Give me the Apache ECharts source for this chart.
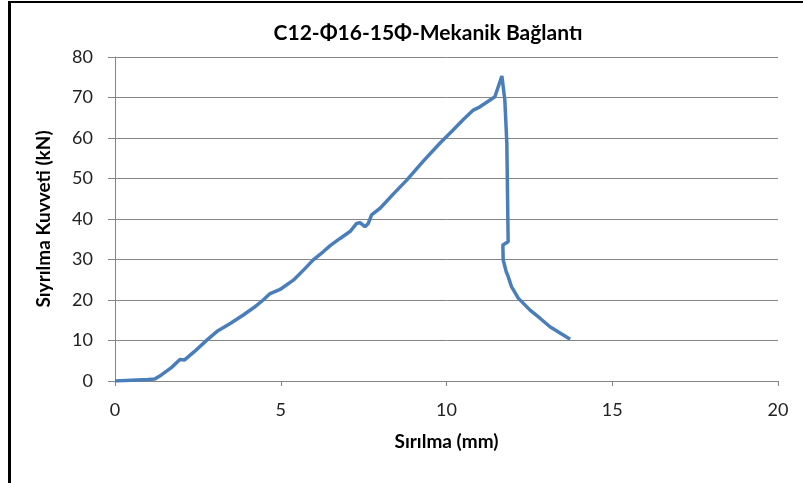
<!DOCTYPE html>
<html>
<head>
<meta charset="utf-8">
<script src="https://cdn.jsdelivr.net/npm/echarts@6/dist/echarts.min.js"></script>
<style>
html,body{margin:0;padding:0;background:#fff;}
#frame{position:absolute;left:0;top:0;width:803px;height:483px;}
#border{position:absolute;left:8px;top:1px;width:795px;height:482px;border-left:3px solid #000;border-top:2px solid #000;box-sizing:border-box;pointer-events:none;}
#chart{position:absolute;left:0;top:0;width:803px;height:483px;}
</style>
</head>
<body>
<div id="frame"><div id="chart"></div><div id="border"></div></div>
<script>
const chartTitle = 'C12-\u03A616-15\u03A6-Mekanik Bağlantı';
const xAxisName = 'Sırılma (mm)';
const yAxisName = 'Sıyrılma Kuvveti (kN)';
const slipMm = [0,0.5,1.0,1.2,1.4,1.7,1.96,2.1,2.4,2.77,3.07,3.5,3.87,4.2,4.47,4.68,4.98,5.38,5.7,5.98,6.28,6.5,6.79,7.09,7.29,7.39,7.54,7.64,7.74,7.99,8.4,8.8,9.3,9.8,10.2,10.5,10.81,11.01,11.46,11.67,11.76,11.82,11.86,11.70,11.71,11.8,11.86,11.96,12.17,12.52,12.82,13.12,13.4,13.73];
const forceKn = [0,0.2,0.4,0.5,1.5,3.3,5.3,5.2,7.3,10.1,12.2,14.3,16.3,18.2,20,21.6,22.6,24.9,27.5,29.9,31.9,33.5,35.2,36.9,38.9,39.1,38.1,38.9,41,42.6,46.2,49.6,54.3,58.7,62,64.5,66.9,67.7,70.2,75.3,69.3,58.7,34.4,33.6,29.9,27,25.8,23.3,20.4,17.5,15.5,13.4,12,10.3];

const points = slipMm.map((x, i) => [x, forceKn[i]]);
const font = "Lato, 'Noto Sans', sans-serif";
const chart = echarts.init(document.getElementById('chart'), null, {renderer: 'canvas'});
chart.setOption({
  animation: false,
  backgroundColor: '#fff',
  title: {
    text: chartTitle, left: 423, top: 18, textAlign: 'center',
    textStyle: {fontFamily: font, fontSize: 21, fontWeight: 'bold', color: '#000'}
  },
  grid: {left: 115, right: 25, top: 57, bottom: 102},
  xAxis: {
    type: 'value', min: 0, max: 20, interval: 5,
    name: xAxisName, nameLocation: 'middle', nameGap: 51,
    nameTextStyle: {fontFamily: font, fontSize: 19, fontWeight: 'bold', color: '#000'},
    axisLine: {show: true, onZero: false, lineStyle: {color: '#868686', width: 1}},
    axisTick: {show: true, length: 5, lineStyle: {color: '#868686'}},
    axisLabel: {fontFamily: font, fontSize: 18, color: '#222', margin: 20},
    splitLine: {show: false}
  },
  yAxis: {
    type: 'value', min: 0, max: 80, interval: 10,
    name: yAxisName, nameLocation: 'middle', nameGap: 62, nameRotate: 90,
    nameTextStyle: {fontFamily: font, fontSize: 19, fontWeight: 'bold', color: '#000'},
    axisLine: {show: true, lineStyle: {color: '#868686', width: 1}},
    axisTick: {show: true, length: 7, lineStyle: {color: '#868686'}},
    axisLabel: {fontFamily: font, fontSize: 18, color: '#222', margin: 22},
    splitLine: {show: true, lineStyle: {color: '#868686', width: 1}}
  },
  series: [{
    type: 'line', data: points, showSymbol: false, smooth: false,
    lineStyle: {color: '#4a7ebb', width: 3.5},
    itemStyle: {color: '#4a7ebb'}
  }]
});
</script>
</body>
</html>
